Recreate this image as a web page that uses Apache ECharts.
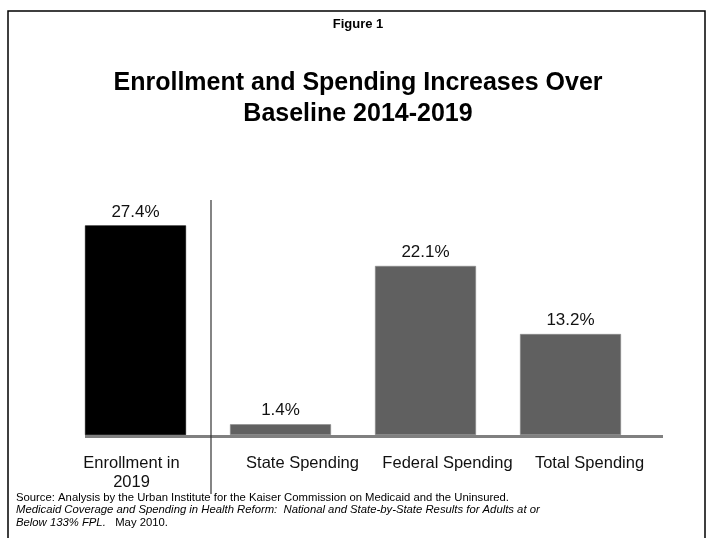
<!DOCTYPE html>
<html><head><meta charset="utf-8">
<script src="https://cdn.jsdelivr.net/npm/echarts@6/dist/echarts.min.js"></script>
<style>html,body{margin:0;padding:0;background:#fff}#c{width:716px;height:538px}</style>
</head><body><div id="c"></div>
<script>
const categories = ['Enrollment in\n2019', 'State Spending', 'Federal Spending', 'Total Spending'];
const values = [27.4, 1.4, 22.1, 13.2];
const barColors = ['#000000', '#606060', '#606060', '#606060'];
const labelPad = [[0, 8, 0, 0], [0, 0, 0, 44], [0, 0, 0, 44], [0, 0, 0, 38]];

const chart = echarts.init(document.getElementById('c'), null, {renderer: 'canvas'});
const F = '"Liberation Sans", Arial, sans-serif';
chart.setOption({
  animation: false,
  backgroundColor: '#fff',
  title: [
    {text: 'Figure 1', left: 'center', top: 13, textStyle: {fontFamily: F, fontSize: 13, fontWeight: 'bold', color: '#000'}},
    {text: 'Enrollment and Spending Increases Over\nBaseline 2014-2019', left: 'center', top: 63,
     textStyle: {fontFamily: F, fontSize: 25, fontWeight: 'bold', color: '#000', lineHeight: 31}}
  ],
  grid: {left: 63, width: 580, top: 205.5, height: 229.5, containLabel: false},
  xAxis: {
    type: 'category',
    data: categories.map((c, i) => ({value: c, textStyle: {padding: labelPad[i]}})),
    axisLine: {show: false}, axisTick: {show: false},
    axisLabel: {fontFamily: F, fontSize: 16.5, color: '#111', margin: 19, lineHeight: 19, interval: 0}
  },
  yAxis: {type: 'value', min: 0, max: 30, show: false, splitLine: {show: false}},
  series: [{
    type: 'bar',
    barWidth: 101,
    data: values.map((v, i) => ({value: v, itemStyle: {color: barColors[i], borderColor: i ? '#8a8a8a' : '#000', borderWidth: 0.6}})),
    label: {show: true, position: 'top', distance: 5, fontFamily: F, fontSize: 17, color: '#111', formatter: p => p.value.toFixed(1) + '%'}
  }],
  graphic: [
    {type: 'rect', shape: {x: 8, y: 11, width: 697, height: 560}, style: {fill: 'none', stroke: '#000', lineWidth: 1.5}, z: 10},
    {type: 'line', shape: {x1: 85, y1: 436.5, x2: 663, y2: 436.5}, style: {stroke: '#808080', lineWidth: 3}, z: 5},
    {type: 'line', shape: {x1: 211, y1: 200, x2: 211, y2: 494}, style: {stroke: '#333', lineWidth: 1.2}, z: 5},
    {type: 'text', left: 16, top: 492.5, style: {fontFamily: F, fontSize: 11.3, fill: '#000',
      text: 'Source: Analysis by the Urban Institute for the Kaiser Commission on Medicaid and the Uninsured.'}},
    {type: 'text', left: 16, top: 504.5, style: {fontFamily: F, fontSize: 11.3, fontStyle: 'italic', fill: '#000',
      text: 'Medicaid Coverage and Spending in Health Reform:  National and State-by-State Results for Adults at or'}},
    {type: 'text', left: 16, top: 517, style: {fontFamily: F, fontSize: 11.3, fill: '#000',
      rich: {i: {fontFamily: F, fontSize: 11.3, fontStyle: 'italic'}, n: {fontFamily: F, fontSize: 11.3}},
      text: '{i|Below 133% FPL.}{n|   May 2010.}'}}
  ]
});
</script></body></html>
